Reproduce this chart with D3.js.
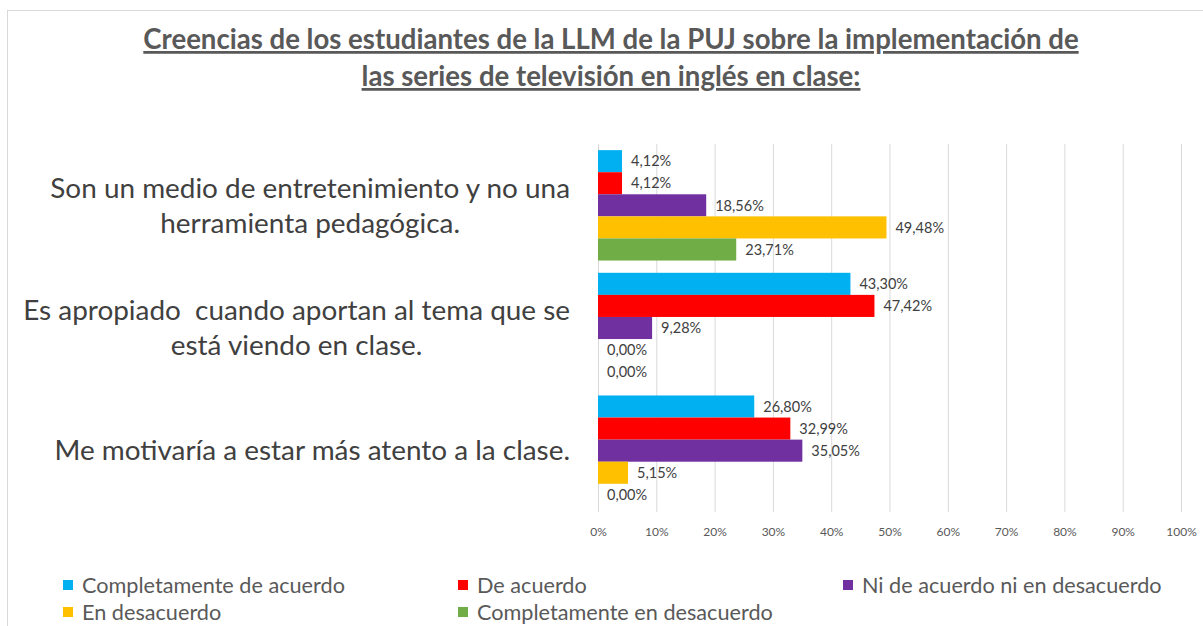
<!DOCTYPE html>
<html>
<head>
<meta charset="utf-8">
<script src="https://cdn.jsdelivr.net/npm/d3@7"></script>
<style>
  body { margin: 0; background: #fff; }
  text { font-family: Lato, "Open Sans", sans-serif; }
</style>
</head>
<body>
<div id="chart"></div>
<script>
// data
var titleLines = [
  'Creencias de los estudiantes de la LLM de la PUJ sobre la implementación de',
  'las series de televisión en inglés en clase:'
]
var categories = [
  'Son un medio de entretenimiento y no una herramienta pedagógica.',
  'Es apropiado  cuando aportan al tema que se está viendo en clase.',
  'Me motivaría a estar más atento a la clase.'
]
var categoryLines = [
  ['Son un medio de entretenimiento y no una', 'herramienta pedagógica.'],
  ['Es apropiado  cuando aportan al tema que se', 'está viendo en clase.'],
  ['Me motivaría a estar más atento a la clase.']
]
var series = [
  'Completamente de acuerdo',
  'De acuerdo',
  'Ni de acuerdo ni en desacuerdo',
  'En desacuerdo',
  'Completamente en desacuerdo'
]
var colors = ['#00B0F0', '#FF0000', '#7030A0', '#FFC000', '#70AD47']
// values per category, in series order
var valuesEntretenimiento = [0.0412, 0.0412, 0.1856, 0.4948, 0.2371]
var valuesApropiado = [0.4330, 0.4742, 0.0928, 0.0000, 0.0000]
var valuesMotivaria = [0.2680, 0.3299, 0.3505, 0.0515, 0.0000]
var allValues = [valuesEntretenimiento, valuesApropiado, valuesMotivaria]
var xTicks = [0, 0.1, 0.2, 0.3, 0.4, 0.5, 0.6, 0.7, 0.8, 0.9, 1]

var W = 1203, H = 626

var svg = d3.select('#chart').append('svg')
  .attr('width', W)
  .attr('height', H)

// chart frame
svg.append('rect')
  .attr('x', 7.5).attr('y', 10.5)
  .attr('width', 1300).attr('height', 700)
  .attr('fill', '#fff')
  .attr('stroke', '#d9d9d9')

// shrink/grow a text so it takes a given width
function fitWidth(sel, target) {
  var len = sel.node().getComputedTextLength()
  var fs = parseFloat(sel.attr('font-size'))
  return fs * target / len
}

// title
var title = svg.append('g')
var t1 = title.append('text')
  .attr('x', 611).attr('y', 49)
  .attr('text-anchor', 'middle')
  .attr('font-size', 20)
  .attr('font-weight', 'bold')
  .attr('fill', '#595959')
  .style('text-decoration', 'underline')
  .text(titleLines[0])
var titleSize = fitWidth(t1, 936)
t1.attr('font-size', titleSize)
title.append('text')
  .attr('x', 611).attr('y', 86)
  .attr('text-anchor', 'middle')
  .attr('font-size', titleSize)
  .attr('font-weight', 'bold')
  .attr('fill', '#595959')
  .style('text-decoration', 'underline')
  .text(titleLines[1])

// scales
var x = d3.scaleLinear().domain([0, 1]).range([598, 1181])
var y = d3.scaleBand().domain(categories).range([144, 512])
  .paddingInner(0.1).paddingOuter(0.05)
var ySub = d3.scaleBand().domain(series).range([0, y.bandwidth()])

// grid + axis
var xAxis = d3.axisBottom(x)
  .tickValues(xTicks)
  .tickSize(-(512 - 144))
  .tickPadding(15)
  .tickFormat(d3.format('.0%'))
var gx = svg.append('g')
  .attr('transform', 'translate(0,512)')
  .call(xAxis)
gx.select('.domain').remove()
gx.selectAll('.tick line').attr('stroke', '#d9d9d9')
gx.selectAll('.tick text')
  .attr('fill', '#595959')
  .attr('font-size', 12)
  .style('font-family', 'Lato, "Open Sans", sans-serif')

// bars
var locale = d3.formatLocale({ decimal: ',', thousands: '.', grouping: [3], currency: ['', '€'] })
var pct = locale.format('.2%')

var groups = svg.selectAll('.cat')
  .data(categories)
  .enter().append('g')
  .attr('class', 'cat')
  .attr('transform', function(d) { return 'translate(0,' + y(d) + ')' })

groups.each(function(cat, ci) {
  var g = d3.select(this)
  var rows = series.map(function(s, si) { return { s: s, v: allValues[ci][si], c: colors[si] } })
  g.selectAll('rect')
    .data(rows)
    .enter().append('rect')
    .attr('x', x(0))
    .attr('y', function(d) { return ySub(d.s) })
    .attr('width', function(d) { return x(d.v) - x(0) })
    .attr('height', ySub.bandwidth())
    .attr('fill', function(d) { return d.c })
  g.selectAll('text.lbl')
    .data(rows)
    .enter().append('text')
    .attr('class', 'lbl')
    .attr('x', function(d) { return x(d.v) + 9 })
    .attr('y', function(d) { return ySub(d.s) + ySub.bandwidth() / 2 })
    .attr('dy', '0.36em')
    .attr('font-size', 14.5)
    .attr('fill', '#404040')
    .text(function(d) { return pct(d.v) })
})

// category labels
var probe = svg.append('text').attr('font-size', 22).text(categoryLines[0][0])
var catSize = fitWidth(probe, 520)
probe.remove()

categoryLines.forEach(function(lines, ci) {
  var g = svg.append('g')
  var texts = g.selectAll('text')
    .data(lines)
    .enter().append('text')
    .attr('font-size', catSize)
    .attr('fill', '#404040')
    .attr('text-anchor', 'middle')
    .attr('xml:space', 'preserve')
    .style('white-space', 'pre')
    .text(function(d) { return d })
  var maxW = d3.max(texts.nodes(), function(n) { return n.getComputedTextLength() })
  var cx = 570 - maxW / 2
  var cy = y(categories[ci]) + y.bandwidth() / 2
  var lh = 35
  texts
    .attr('x', cx)
    .attr('y', function(d, i) { return cy + (i - (lines.length - 1) / 2) * lh })
    .attr('dy', '0.35em')
})

// legend
var legendPos = [
  { x: 63, y: 585 }, { x: 458, y: 585 }, { x: 843, y: 585 },
  { x: 63, y: 612 }, { x: 458, y: 612 }
]
var lp = svg.append('text').attr('font-size', 18).text(series[0])
var legSize = fitWidth(lp, 263)
lp.remove()

var legend = svg.selectAll('.leg')
  .data(series)
  .enter().append('g')
  .attr('class', 'leg')
  .attr('transform', function(d, i) { return 'translate(' + legendPos[i].x + ',' + legendPos[i].y + ')' })
legend.append('rect')
  .attr('x', 0).attr('y', -5)
  .attr('width', 10).attr('height', 10)
  .attr('fill', function(d, i) { return colors[i] })
legend.append('text')
  .attr('x', 19)
  .attr('dy', '0.35em')
  .attr('font-size', legSize)
  .attr('fill', '#595959')
  .text(function(d) { return d })
</script>
</body>
</html>
